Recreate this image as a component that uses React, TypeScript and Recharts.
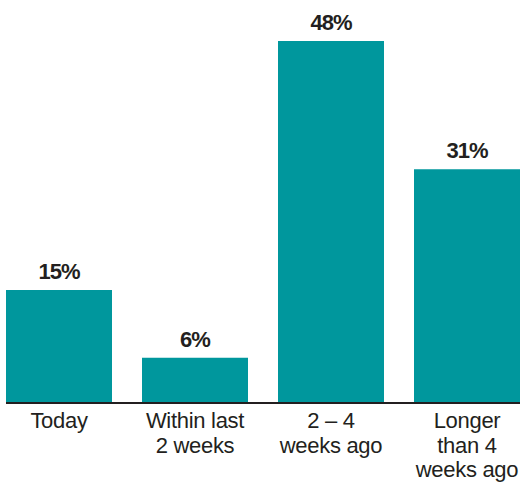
import { BarChart, Bar, XAxis, YAxis, LabelList } from "recharts";

const categories = ["Today", "Within last\n2 weeks", "2 – 4\nweeks ago", "Longer\nthan 4\nweeks ago"];
const shares = [15, 6, 48, 31];

const data = categories.map((name, i) => ({ name, share: shares[i] }));

const INK = "#231f20";
const FONT = "'Liberation Sans Narrow', 'Liberation Sans', sans-serif";

function CategoryTick({ x, y, payload }: any) {
  const lines = String(payload.value).split("\n");
  return (
    <text x={x} y={y} textAnchor="middle" fill={INK} fontFamily={FONT} fontSize={22} letterSpacing={-0.3}>
      {lines.map((line, i) => (
        <tspan key={i} x={x} dy={i === 0 ? 25 : 24.5}>
          {line}
        </tspan>
      ))}
    </text>
  );
}

export default function App() {
  return (
    <div style={{ position: "fixed", left: 0, top: 0, width: 520, height: 482, overflow: "hidden", background: "#fff" }}>
      <BarChart
        width={540}
        height={482}
        data={data}
        margin={{ top: 41, right: 5, left: 6, bottom: 0 }}
        barCategoryGap={15}
      >
        <XAxis
          dataKey="name"
          axisLine={{ stroke: INK, strokeWidth: 2 }}
          tickLine={false}
          tickSize={0}
          tickMargin={0}
          height={79}
          interval={0}
          padding={{ left: -15, right: 0 }}
          tick={<CategoryTick />}
        />
        <YAxis hide domain={[0, 48]} />
        <Bar dataKey="share" fill="#00979d" isAnimationActive={false}>
          <LabelList
            dataKey="share"
            position="top"
            offset={11}
            formatter={(v: any) => `${v}%`}
            fill={INK}
            fontFamily={FONT}
            fontSize={22}
            fontWeight="bold"
            letterSpacing={-1}
          />
        </Bar>
      </BarChart>
    </div>
  );
}
